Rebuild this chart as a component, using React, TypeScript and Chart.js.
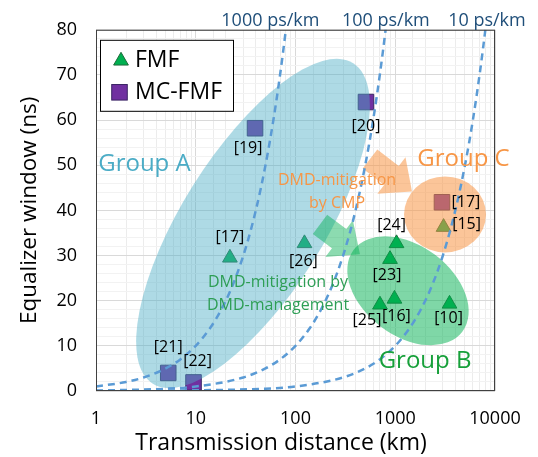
import React, { useEffect, useRef } from "react";
import { Chart, registerables } from "chart.js";

Chart.register(...registerables);

const FONT = "'Open Sans', sans-serif";

// FMF results: reference tag, transmission distance (km), equalizer window (ns)
const fmfRefs = ["[17]", "[26]", "[24]", "[23]", "[25]", "[16]", "[10]", "[15]"];
const fmfDistance = [22, 123, 1030, 886, 703, 982, 3500, 3050];
const fmfWindow = [29.5, 32.7, 32.7, 29.2, 19.1, 20.4, 19.3, 36.3];

// MC-FMF results
const mcRefs = ["[19]", "[20]", "[21]", "[22]", "[17]"];
const mcDistance = [39.3, 509, 5.3, 9.5, 2940];
const mcWindow = [58.2, 64, 4, 1.9, 41.8];

// Constant-DMD guide curves
const dmdLabels = ["1000 ps/km", "100 ps/km", "10 ps/km"];
const dmd1000Distance = [1, 2, 3, 5, 7, 10, 14, 18, 22, 26, 30, 35, 40, 45, 50, 55, 60, 65, 70, 75, 80, 85];
const dmd1000Window = [1, 2, 3, 5, 7, 10, 14, 18, 22, 26, 30, 35, 40, 45, 50, 55, 60, 65, 70, 75, 80, 85];
const dmd100Distance = [1, 5, 10, 30, 50, 70, 100, 140, 180, 220, 260, 300, 350, 400, 450, 500, 550, 600, 650, 700, 750, 800, 850];
const dmd100Window = [0.1, 0.5, 1, 3, 5, 7, 10, 14, 18, 22, 26, 30, 35, 40, 45, 50, 55, 60, 65, 70, 75, 80, 85];
const dmd10Distance = [1, 50, 100, 300, 500, 700, 1000, 1400, 1800, 2200, 2600, 3000, 3500, 4000, 4500, 5000, 5500, 6000, 6500, 7000, 7500, 8000, 8500];
const dmd10Window = [0.01, 0.5, 1, 3, 5, 7, 10, 14, 18, 22, 26, 30, 35, 40, 45, 50, 55, 60, 65, 70, 75, 80, 85];

// Axis tick values that carry a label
const xTickLabels = [1, 10, 100, 1000, 10000];
const yTickLabels = [0, 10, 20, 30, 40, 50, 60, 70, 80];

// Label placement next to each marker (pixels from marker centre)
const fmfLabelOffset = [[0, -20], [-1, 18], [-5, -18], [-3, 16], [-13, 16], [2, 18], [-1, 15], [23, -3]];
const mcLabelOffset = [[-7, 20], [0, 24], [0, -26], [4, -21], [24, 0]];

const FMF_COLOR = "#00b050";
const MC_COLOR = "#7030a0";
const DMD_COLOR = "#5b9bd5";

// Grouping ellipses: centre in data units, radii in pixels, tilt in degrees
const groups = [
  { text: "Group A", cx: 37.5, cy: 37.1, rx: 189, ry: 71, tilt: -58, fill: "rgba(75,172,198,0.45)", color: "#4bacc6", tx: 3.06, ty: 50.3 },
  { text: "Group B", cx: 1342, cy: 22.2, rx: 68, ry: 45, tilt: 37, fill: "rgba(0,176,80,0.5)", color: "#17a03a", tx: 1990, ty: 6.6 },
  { text: "Group C", cx: 3155, cy: 39.1, rx: 41, ry: 38, tilt: 0, fill: "rgba(247,150,70,0.55)", color: "#f79646", tx: 4830, ty: 51.4 },
];

// Block arrows: tail and tip in data units
const arrows = [
  { x0: 558, y0: 51.4, x1: 1472, y1: 44.2, fill: "rgba(247,150,70,0.55)" },
  { x0: 176, y0: 36.9, x1: 443, y1: 30.3, fill: "rgba(0,176,80,0.45)" },
];

const notes = [
  { lines: ["DMD-mitigation", "by CMP"], x: 261, y: 46.6, color: "#f79646" },
  { lines: ["DMD-mitigation by", "DMD-management"], x: 66.8, y: 24.0, color: "#2e9e55" },
];

const dmdLabelDistance = [56, 805, 8300];

function drawTriangle(ctx: CanvasRenderingContext2D, x: number, y: number, r: number) {
  const s = Math.sin((2 * Math.PI) / 3) * r;
  ctx.beginPath();
  ctx.moveTo(x, y - r);
  ctx.lineTo(x + s, y + r / 2);
  ctx.lineTo(x - s, y + r / 2);
  ctx.closePath();
}

const overlayPlugin = {
  id: "overlay",
  // ellipses and arrows sit above the markers but below the DMD curves
  afterDatasetDraw(chart: any, args: any) {
    if (args.index !== 1) return;
    const { ctx, chartArea: a } = chart;
    const sx = chart.scales.x;
    const sy = chart.scales.y;
    ctx.save();
    ctx.beginPath();
    ctx.rect(a.left, a.top, a.right - a.left, a.bottom - a.top);
    ctx.clip();
    for (const g of groups) {
      ctx.beginPath();
      ctx.ellipse(sx.getPixelForValue(g.cx), sy.getPixelForValue(g.cy), g.rx, g.ry, (g.tilt * Math.PI) / 180, 0, Math.PI * 2);
      ctx.fillStyle = g.fill;
      ctx.fill();
    }
    for (const ar of arrows) {
      const tx = sx.getPixelForValue(ar.x0);
      const ty = sy.getPixelForValue(ar.y0);
      const px = sx.getPixelForValue(ar.x1);
      const py = sy.getPixelForValue(ar.y1);
      const len = Math.hypot(px - tx, py - ty);
      const dx = (px - tx) / len;
      const dy = (py - ty) / len;
      const nx = -dy;
      const ny = dx;
      const sw = 12, hw = 23, hl = 26;
      const bx = px - dx * hl;
      const by = py - dy * hl;
      ctx.beginPath();
      ctx.moveTo(tx + nx * sw, ty + ny * sw);
      ctx.lineTo(bx + nx * sw, by + ny * sw);
      ctx.lineTo(bx + nx * hw, by + ny * hw);
      ctx.lineTo(px, py);
      ctx.lineTo(bx - nx * hw, by - ny * hw);
      ctx.lineTo(bx - nx * sw, by - ny * sw);
      ctx.lineTo(tx - nx * sw, ty - ny * sw);
      ctx.closePath();
      ctx.fillStyle = ar.fill;
      ctx.fill();
    }
    ctx.restore();
  },
  afterDatasetsDraw(chart: any) {
    const { ctx } = chart;
    const sx = chart.scales.x;
    const sy = chart.scales.y;
    ctx.save();
    ctx.textAlign = "center";
    ctx.textBaseline = "middle";
    ctx.fillStyle = "#000";
    ctx.font = `16px ${FONT}`;
    fmfRefs.forEach((t, i) => {
      ctx.fillText(t, sx.getPixelForValue(fmfDistance[i]) + fmfLabelOffset[i][0], sy.getPixelForValue(fmfWindow[i]) + fmfLabelOffset[i][1]);
    });
    mcRefs.forEach((t, i) => {
      ctx.fillText(t, sx.getPixelForValue(mcDistance[i]) + mcLabelOffset[i][0], sy.getPixelForValue(mcWindow[i]) + mcLabelOffset[i][1]);
    });
    ctx.font = `24px ${FONT}`;
    for (const g of groups) {
      ctx.fillStyle = g.color;
      ctx.fillText(g.text, sx.getPixelForValue(g.tx), sy.getPixelForValue(g.ty));
    }
    ctx.font = `16px ${FONT}`;
    for (const n of notes) {
      ctx.fillStyle = n.color;
      n.lines.forEach((l, i) => ctx.fillText(l, sx.getPixelForValue(n.x), sy.getPixelForValue(n.y) + i * 22.5));
    }
    ctx.restore();
  },
  afterDraw(chart: any) {
    const { ctx, chartArea: a } = chart;
    const sx = chart.scales.x;
    ctx.save();
    // plot frame
    ctx.strokeStyle = "#404040";
    ctx.lineWidth = 1;
    ctx.strokeRect(a.left + 0.5, a.top + 0.5, a.right - a.left - 1, a.bottom - a.top - 1);
    // DMD curve names above the plot
    ctx.fillStyle = "#1f4e79";
    ctx.font = `18px ${FONT}`;
    ctx.textAlign = "center";
    ctx.textBaseline = "alphabetic";
    dmdLabels.forEach((t, i) => ctx.fillText(t, sx.getPixelForValue(dmdLabelDistance[i]), a.top - 4));
    // x-axis title
    ctx.fillStyle = "#000";
    ctx.font = `23px ${FONT}`;
    ctx.fillText("Transmission distance (km)", a.left + 185, a.bottom + 59);
    // legend
    const lx = a.left + 4;
    const ly = a.top + 10;
    ctx.fillStyle = "#fff";
    ctx.fillRect(lx, ly, 133, 71);
    ctx.strokeStyle = "#000";
    ctx.strokeRect(lx + 0.5, ly + 0.5, 133, 71);
    drawTriangle(ctx, lx + 21, ly + 21, 8.5);
    ctx.fillStyle = FMF_COLOR;
    ctx.fill();
    ctx.strokeStyle = "#1d6b3a";
    ctx.stroke();
    const s = 11 * Math.SQRT1_2;
    ctx.fillStyle = MC_COLOR;
    ctx.fillRect(lx + 19.5 - s, ly + 52.5 - s, 2 * s, 2 * s);
    ctx.strokeStyle = "#3a2463";
    ctx.strokeRect(lx + 19.5 - s, ly + 52.5 - s, 2 * s, 2 * s);
    ctx.fillStyle = "#000";
    ctx.font = `23px ${FONT}`;
    ctx.textAlign = "left";
    ctx.textBaseline = "middle";
    ctx.fillText("FMF", lx + 35, ly + 21);
    ctx.fillText("MC-FMF", lx + 35, ly + 53);
    ctx.restore();
  },
};

function curve(xs: number[], ys: number[], label: string) {
  return {
    label,
    data: xs.map((x, i) => ({ x, y: ys[i] })),
    showLine: true,
    borderColor: DMD_COLOR,
    borderWidth: 2.5,
    borderDash: [7, 5],
    pointRadius: 0,
    cubicInterpolationMode: "monotone" as const,
    order: 1,
  };
}

export default function App() {
  const ref = useRef<HTMLCanvasElement>(null);
  useEffect(() => {
    const chart = new Chart(ref.current as HTMLCanvasElement, {
      type: "scatter",
      data: {
        datasets: [
          {
            label: "FMF",
            data: fmfDistance.map((x, i) => ({ x, y: fmfWindow[i] })),
            pointStyle: "triangle",
            pointRadius: 8.5,
            backgroundColor: FMF_COLOR,
            borderColor: "#1d6b3a",
            borderWidth: 1,
            order: 3,
          },
          {
            label: "MC-FMF",
            data: mcDistance.map((x, i) => ({ x, y: mcWindow[i] })),
            pointStyle: "rect",
            pointRadius: 11,
            backgroundColor: MC_COLOR,
            borderColor: "#3a2463",
            borderWidth: 1,
            order: 2,
          },
          curve(dmd1000Distance, dmd1000Window, dmdLabels[0]),
          curve(dmd100Distance, dmd100Window, dmdLabels[1]),
          curve(dmd10Distance, dmd10Window, dmdLabels[2]),
        ] as any,
      },
      options: {
        animation: false,
        responsive: true,
        maintainAspectRatio: false,
        layout: { padding: { top: 27, right: 43, bottom: 0, left: 0 } },
        plugins: { legend: { display: false }, tooltip: { enabled: false } },
        scales: {
          x: {
            type: "logarithmic",
            min: 1,
            max: 10000,
            afterFit: (s: any) => { s.height = 66; },
            border: { display: false },
            grid: {
              drawTicks: false,
              color: (c: any) => (xTickLabels.includes(c.tick?.value) ? "#d9d9d9" : "#ececec"),
            },
            ticks: {
              autoSkip: false,
              maxRotation: 0,
              padding: 17,
              color: "#000",
              font: { family: FONT, size: 18 },
              callback: (v: any) => (xTickLabels.includes(Number(v)) ? String(v) : ""),
            },
          },
          y: {
            min: 0,
            max: 80,
            afterFit: (s: any) => { s.width = 96; },
            border: { display: false },
            grid: {
              drawTicks: false,
              color: (c: any) => (yTickLabels.includes(c.tick?.value) ? "#d9d9d9" : "#f2f2f2"),
            },
            ticks: {
              stepSize: 2,
              autoSkip: false,
              padding: 19,
              color: "#000",
              font: { family: FONT, size: 18 },
              callback: (v: any) => (yTickLabels.includes(Number(v)) ? String(v) : ""),
            },
            title: {
              display: true,
              text: "Equalizer window (ns)",
              color: "#000",
              font: { family: FONT, size: 22.5 },
              padding: { top: 16.5, bottom: 0 },
            },
          },
        },
      },
      plugins: [overlayPlugin],
    });
    return () => chart.destroy();
  }, []);
  return (
    <div style={{ position: "absolute", left: 0, top: 0, width: 538, height: 457, background: "#fff" }}>
      <canvas ref={ref} />
    </div>
  );
}
